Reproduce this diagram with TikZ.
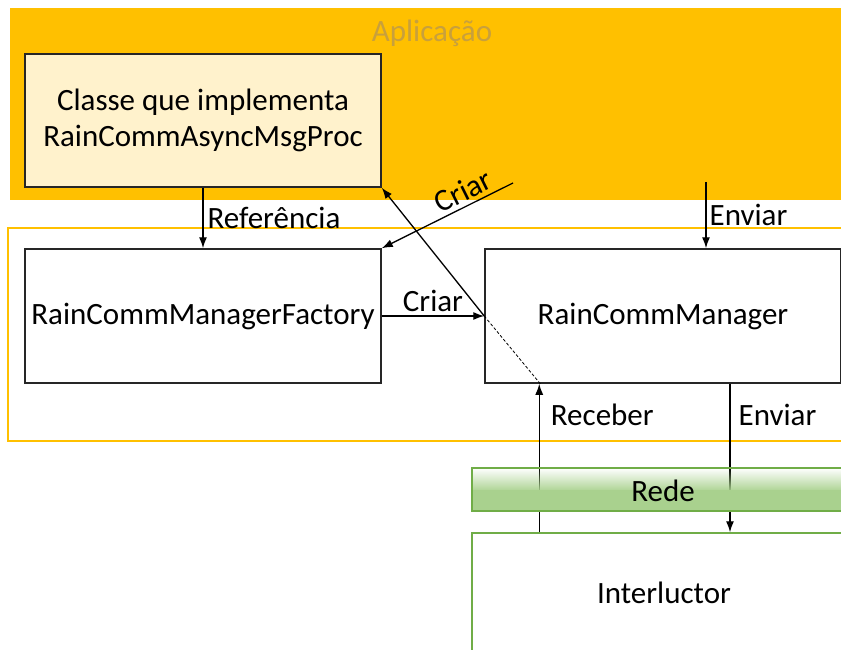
\documentclass[tikz,border=0pt]{standalone}
\usepackage{fontspec}
\setmainfont{Carlito}
\usetikzlibrary{arrows.meta,calc,fadings}
\definecolor{appband}{HTML}{FFC000}
\definecolor{applabel}{RGB}{200,160,60}
\definecolor{clsfill}{HTML}{FFF2CC}
\definecolor{netgreen}{HTML}{A9D18E}
\definecolor{netedge}{HTML}{70AD47}
\begin{document}
\begin{tikzpicture}[x=1pt,y=-1pt,
  every node/.style={font=\fontsize{31}{36}\selectfont},
  box/.style={draw=black!85, line width=1.5pt, fill=white, inner sep=0pt, align=center},
  arr/.style={-{Latex[length=11pt,width=8pt]}, line width=1.3pt},
  rarr/.style={{Latex[length=11pt,width=8pt]}-, line width=1.3pt},
  lbl/.style={inner sep=0pt}]
\useasboundingbox (0,0) rectangle (841,650);

% application layer
\fill[appband] (10,8) rectangle (850,200);
\node[text=applabel, inner sep=0pt] (app) at (432,33) {Aplicação};
% communication layer outline
\draw[appband, line width=2pt] (8,228) rectangle (850,441);

% boxes
\node[box, fill=clsfill, minimum width=356pt, minimum height=133pt] (cls) at (203,120.5)
  {Classe que implementa\\RainCommAsyncMsgProc};
\node[box, minimum width=356pt, minimum height=134pt] (fac) at (203,316) {RainCommManagerFactory};
\node[box, minimum width=356pt, minimum height=134pt] (mgr) at (663,316) {RainCommManager};
\node[draw=netedge, line width=1.5pt, fill=white, minimum width=384pt, minimum height=120pt, inner sep=0pt]
  (peer) at (664,593) {Interluctor};

% connectors
\draw[arr] (cls.south) -- node[lbl, anchor=west, xshift=4pt] {Referência} (fac.north);
\coordinate (c1) at (513,183);
\draw[rarr] (fac.north east) -- node[sloped, above, pos=0.67, inner sep=4pt] {Criar} (c1);
\draw[arr] (fac.east) -- node[above, inner sep=4pt] {Criar} (mgr.west);
\draw[arr] (mgr.west) -- (cls.south east);
\draw[line width=0.8pt, dash pattern=on 3pt off 2pt] (mgr.west) -- ($(mgr.south west)+(56,0)$);
\coordinate (e1) at (706,182);
\draw[arr] (e1) -- node[lbl, anchor=west, xshift=3pt] {Enviar} (e1 |- mgr.north);
\coordinate (rx) at ($(mgr.south west)+(55,0)$);
\draw[arr] (rx |- peer.north) -- node[lbl, pos=0.79, anchor=west, xshift=11pt] {Receber} (rx);
\coordinate (sx) at (730,0);
\draw[arr] (sx |- mgr.south) -- node[lbl, pos=0.21, anchor=west, xshift=8pt] {Enviar} (sx |- peer.north);

% network band
\fill[netgreen, path fading=north] (472,468) rectangle (854,492);
\fill[netgreen] (472,490) rectangle (854,511);
\draw[netedge, line width=1.2pt] (472,468) rectangle (854,511);
\node[inner sep=0pt] (net) at (663,491) {Rede};
\end{tikzpicture}
\end{document}
